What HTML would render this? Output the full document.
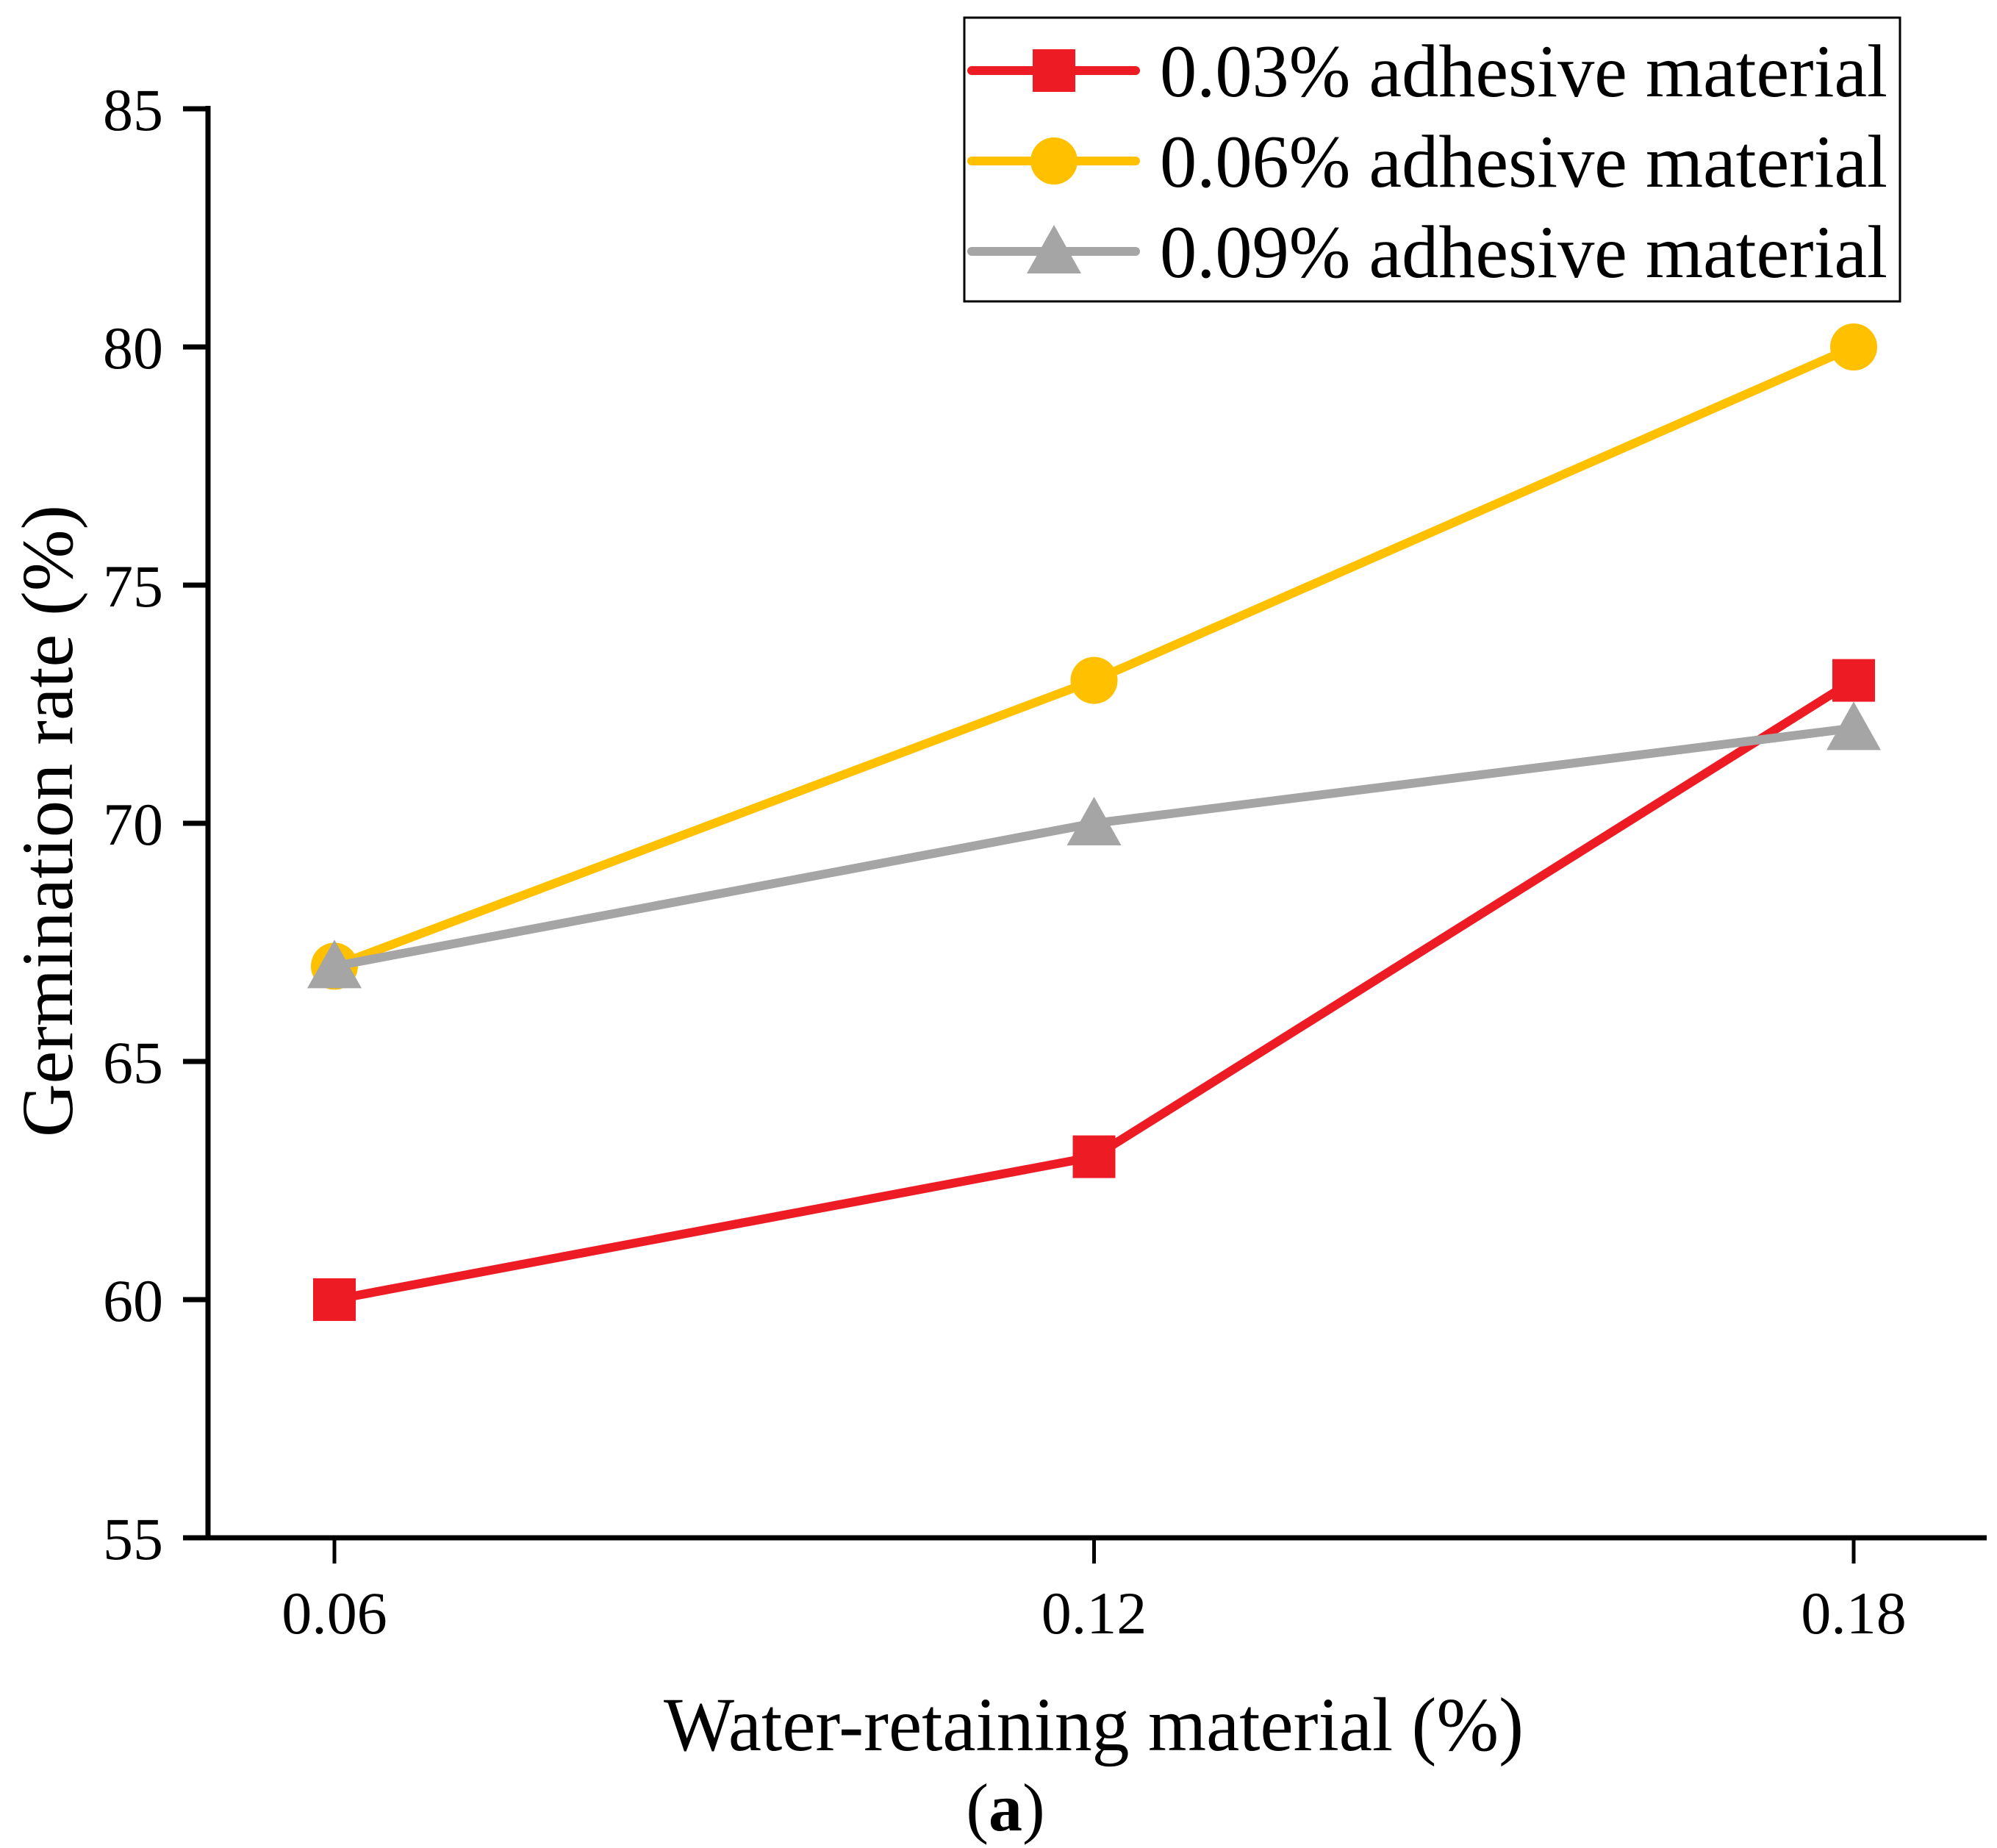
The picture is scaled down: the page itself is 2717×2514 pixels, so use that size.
<!DOCTYPE html>
<html><head><meta charset="utf-8"><style>html,body{margin:0;padding:0;background:#fff}svg{display:block}text{font-family:"Liberation Serif",serif;fill:#000}</style></head>
<body>
<svg id="chart" width="2717" height="2514" viewBox="0 0 2717 2514" xmlns="http://www.w3.org/2000/svg">
<g id="plot"></g>
</svg>
<script>
const categories = ["0.06", "0.12", "0.18"];
const yTicks = [55, 60, 65, 70, 75, 80, 85];
const seriesNames = ["0.03% adhesive material", "0.06% adhesive material", "0.09% adhesive material"];
const red = [60, 63, 73];
const yellow = [67, 73, 80];
const gray = [67, 70, 72];

const NS = "http://www.w3.org/2000/svg";
const svg = document.getElementById('plot');
const yMin = 55, yMax = 85, yTop = 148, yBot = 2092;
const xFirst = 455, xStep = 1033.5;
function ys(v){ return yBot - (v - yMin) / (yMax - yMin) * (yBot - yTop); }
function xs(i){ return xFirst + i * xStep; }
function mk(tag, attrs, parent){
  const e = document.createElementNS(NS, tag);
  for (const k in attrs) e.setAttribute(k, attrs[k]);
  (parent || svg).appendChild(e);
  return e;
}
let e = mk('line', {x1:283, y1:yTop-4, x2:283, y2:yBot+3, stroke:'#000', 'stroke-width':7});


e = mk('line', {x1:249, y1:yBot, x2:2703, y2:yBot, stroke:'#000', 'stroke-width':7});


yTicks.forEach(v => {
  const t = mk('line', {x1:249, y1:ys(v), x2:283, y2:ys(v), stroke:'#000', 'stroke-width':7});
  
  
  const l = mk('text', {x:222, y:ys(v)+29, 'text-anchor':'end', 'font-size':82});
  l.textContent = v;
  
  
});
categories.forEach((c, i) => {
  const t = mk('line', {x1:xs(i), y1:yBot, x2:xs(i), y2:yBot+35, stroke:'#000', 'stroke-width':5});
  
  
  const l = mk('text', {x:xs(i), y:2222, 'text-anchor':'middle', 'font-size':82});
  l.textContent = c;
  
  
});
e = mk('text', {x:1488, y:2381, 'text-anchor':'middle', 'font-size':104, textLength:1170, lengthAdjust:'spacingAndGlyphs'});
e.textContent = 'Water-retaining material (%)';


e = mk('text', {x:0, y:0, 'text-anchor':'middle', 'font-size':100, textLength:860, lengthAdjust:'spacingAndGlyphs', transform:'translate(98,1117) rotate(-90)'});
e.textContent = 'Germination rate (%)';


e = mk('text', {x:1368, y:2490, 'text-anchor':'middle', 'font-size':92});
e.innerHTML = '(<tspan font-weight="bold">a</tspan>)';



const colors = ['#ED1C24', '#FFC000', '#A5A5A5'];
const shapes = ['square', 'circle', 'triangle'];
function marker(shape, x, y, color, parent){
  let m;
  if (shape === 'square') m = mk('rect', {x:x-29, y:y-29, width:58, height:58, fill:color}, parent);
  else if (shape === 'circle') m = mk('circle', {cx:x, cy:y, r:32, fill:color}, parent);
  else m = mk('polygon', {points:`${x},${y-36} ${x+37},${y+30} ${x-37},${y+30}`, fill:color}, parent);
  return m;
}
[red, yellow, gray].forEach((data, s) => {
  const g = mk('g', {});
  
  
  const p = mk('polyline', {points:data.map((v,i)=>xs(i)+','+ys(v)).join(' '), fill:'none', stroke:colors[s], 'stroke-width':12, 'stroke-linejoin':'round'}, g);
  
  
  data.forEach((v,i) => {
    const m = marker(shapes[s], xs(i), ys(v), colors[s], g);
    
    
  });
});
const lg = mk('g', {});


e = mk('rect', {x:1312, y:24, width:1273, height:386, fill:'#fff', stroke:'#000', 'stroke-width':3}, lg);


seriesNames.forEach((n, s) => {
  const y = 96 + s * 123;
  const ge = mk('g', {}, lg);
  
  
  mk('line', {x1:1322, y1:y, x2:1545, y2:y, stroke:colors[s], 'stroke-width':12, 'stroke-linecap':'round'}, ge);
  marker(shapes[s], 1434, y, colors[s], ge);
  const t = mk('text', {x:1578, y:y+35, 'font-size':102, textLength:990, lengthAdjust:'spacingAndGlyphs'}, ge);
  t.textContent = n;
  
  
});
</script>
</body></html>
